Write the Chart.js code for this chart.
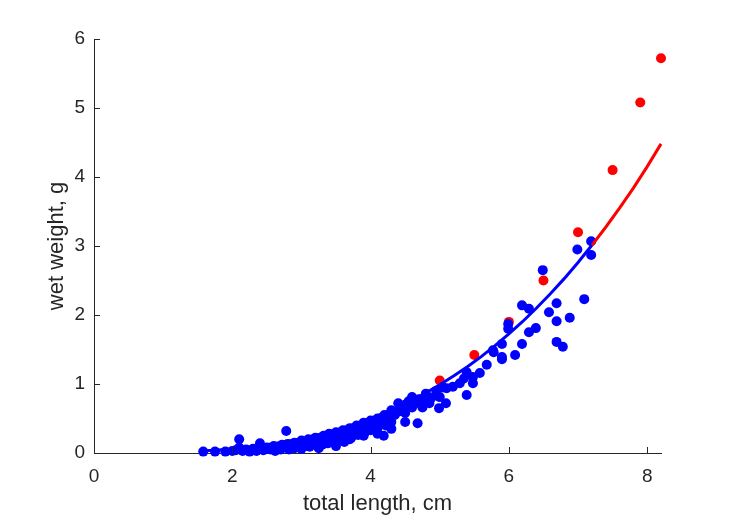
<!DOCTYPE html>
<html lang="en">
<head>
    <meta charset="UTF-8">
    <title>Wet weight vs total length</title>
    <script src="https://cdn.jsdelivr.net/npm/chart.js"></script>
    <style>
        html, body { margin: 0; padding: 0; background: #fff; }
        #wrap { width: 729px; height: 521px; }
    </style>
</head>
<body>
    <div id="wrap"><canvas id="myChart" width="729" height="521"></canvas></div>

    <script>
        // measured points (blue)
        const blueX = [1.58, 1.75, 1.9, 2.0, 2.05, 2.1, 2.1, 2.15, 2.2, 2.25, 2.3, 2.35, 2.4, 2.4, 2.45, 2.5, 2.55, 2.6, 2.62, 2.7,
            2.72, 2.78, 2.8, 2.82, 2.85, 2.9, 2.95, 3.0, 3.0, 3.05, 3.1, 3.12, 3.15, 3.2, 3.22, 3.25, 3.3, 3.32, 3.38, 3.4,
            3.45, 3.5, 3.5, 3.55, 3.6, 3.62, 3.65, 3.7, 3.72, 3.75, 3.8, 3.82, 3.85, 3.9, 3.92, 3.95, 4.0, 4.0, 4.05, 4.1,
            4.1, 4.15, 4.19, 4.2, 4.22, 4.25, 4.3, 4.3, 4.35, 4.4, 4.4, 4.45, 4.5, 4.5, 4.55, 4.6, 4.6, 4.65, 4.68, 4.7,
            4.75, 4.78, 4.8, 4.85, 4.88, 4.95, 4.99, 5.0, 5.05, 5.09, 5.1, 5.19, 5.29, 5.35, 5.39, 5.39, 5.48, 5.48, 5.58, 5.68,
            5.77, 5.78, 5.9, 5.9, 5.9, 5.99, 5.99, 6.09, 6.19, 6.19, 6.29, 6.29, 6.39, 6.49, 6.58, 6.69, 6.69, 6.69, 6.78, 6.88,
            6.99, 7.09, 7.19, 7.19,
            2.3, 2.5, 2.7, 2.9, 3.1, 3.3, 3.5, 3.7, 3.9, 4.1, 4.3, 4.5];
        const blueY = [0.02, 0.02, 0.02, 0.03, 0.04, 0.2, 0.08, 0.03, 0.05, 0.02, 0.06, 0.03, 0.14, 0.07, 0.04, 0.08, 0.05, 0.1, 0.03, 0.08,
            0.12, 0.32, 0.13, 0.05, 0.09, 0.15, 0.1, 0.18, 0.06, 0.13, 0.2, 0.09, 0.15, 0.22, 0.12, 0.07, 0.18, 0.25, 0.14, 0.28,
            0.2, 0.3, 0.1, 0.23, 0.33, 0.16, 0.27, 0.36, 0.22, 0.3, 0.4, 0.26, 0.34, 0.44, 0.3, 0.38, 0.47, 0.33, 0.42, 0.5,
            0.36, 0.45, 0.25, 0.55, 0.4, 0.5, 0.62, 0.45, 0.55, 0.72, 0.6, 0.65, 0.7, 0.58, 0.75, 0.81, 0.66, 0.72, 0.43, 0.78,
            0.66, 0.77, 0.86, 0.72, 0.8, 0.9, 0.65, 0.81, 0.95, 0.72, 0.94, 0.96, 1.01, 1.08, 0.84, 1.17, 1.1, 1.01, 1.16, 1.28,
            1.49, 1.46, 1.36, 1.39, 1.58, 1.8, 1.87, 1.42, 1.58, 2.14, 2.09, 1.75, 1.81, 2.65, 2.04, 2.17, 1.91, 1.61, 1.54, 1.96,
            2.95, 2.23, 3.07, 2.87,
            0.04, 0.06, 0.05, 0.07, 0.1, 0.12, 0.17, 0.2, 0.25, 0.28, 0.35, 0.45];

        // red points
        const redX = [5.0, 5.5, 6.0, 6.5, 7.0, 7.5, 7.9, 8.2];
        const redY = [1.05, 1.42, 1.9, 2.5, 3.2, 4.1, 5.08, 5.72];

        // fitted curve
        const fitBlueX = [1.6, 1.8, 2.0, 2.2, 2.4, 2.6, 2.8, 3.0, 3.2, 3.4, 3.6, 3.8, 4.0, 4.2, 4.4, 4.6, 4.8, 5.0,
            5.2, 5.4, 5.6, 5.8, 6.0, 6.2, 6.4, 6.6, 6.8, 7.0, 7.2];
        const fitBlueY = [0.031, 0.044, 0.060, 0.081, 0.105, 0.135, 0.169, 0.208, 0.253, 0.305, 0.363, 0.428, 0.501, 0.581, 0.670, 0.767, 0.873, 0.989,
            1.115, 1.250, 1.397, 1.556, 1.725, 1.906, 2.101, 2.308, 2.527, 2.76, 3.01];
        const fitRedX = [7.2, 7.4, 7.6, 7.8, 8.0, 8.2];
        const fitRedY = [3.01, 3.272, 3.548, 3.838, 4.15, 4.48];

        const xTicks = [0, 2, 4, 6, 8];
        const yTicks = [0, 1, 2, 3, 4, 5, 6];

        const toPts = (xs, ys) => xs.map((x, i) => ({ x: x, y: ys[i] }));

        const axisColor = '#262626';
        const fontFamily = '"Liberation Sans", Arial, sans-serif';

        // MATLAB style ticks pointing into the plot
        const inwardTicks = {
            id: 'inwardTicks',
            afterDatasetsDraw(chart) {
                const ctx = chart.ctx;
                const area = chart.chartArea;
                const len = 6;
                ctx.save();
                ctx.strokeStyle = axisColor;
                ctx.lineWidth = 1;
                chart.scales.x.ticks.forEach((t, i) => {
                    const px = Math.round(chart.scales.x.getPixelForTick(i)) + 0.5;
                    ctx.beginPath();
                    ctx.moveTo(px, area.bottom);
                    ctx.lineTo(px, area.bottom - len);
                    ctx.stroke();
                });
                chart.scales.y.ticks.forEach((t, i) => {
                    const py = Math.round(chart.scales.y.getPixelForTick(i)) + 0.5;
                    ctx.beginPath();
                    ctx.moveTo(area.left, py);
                    ctx.lineTo(area.left + len, py);
                    ctx.stroke();
                });
                ctx.restore();
            }
        };

        const ctx = document.getElementById('myChart').getContext('2d');
        const myChart = new Chart(ctx, {
            type: 'scatter',
            data: {
                datasets: [
                    {
                        data: toPts(fitBlueX, fitBlueY),
                        showLine: true,
                        borderColor: '#0000ff',
                        borderWidth: 3,
                        pointRadius: 0,
                        clip: false,
                        order: 0
                    },
                    {
                        data: toPts(fitRedX, fitRedY),
                        showLine: true,
                        borderColor: '#ff0000',
                        borderWidth: 3,
                        pointRadius: 0,
                        clip: false,
                        order: 0
                    },
                    {
                        data: toPts(blueX, blueY),
                        backgroundColor: '#0000ff',
                        borderColor: '#0000ff',
                        borderWidth: 0,
                        pointRadius: 5,
                        clip: false,
                        order: 1
                    },
                    {
                        data: toPts(redX, redY),
                        backgroundColor: '#ff0000',
                        borderColor: '#ff0000',
                        borderWidth: 0,
                        pointRadius: 5,
                        clip: false,
                        order: 2
                    }
                ]
            },
            options: {
                responsive: false,
                animation: false,
                layout: { padding: { top: 39, right: 68, left: 38, bottom: 0 } },
                plugins: {
                    legend: { display: false },
                    tooltip: { enabled: false }
                },
                scales: {
                    x: {
                        type: 'linear',
                        min: 0,
                        max: 8.2,
                        afterBuildTicks: s => { s.ticks = xTicks.map(v => ({ value: v })); },
                        afterFit: s => { s.height = 68; },
                        ticks: {
                            color: axisColor,
                            font: { family: fontFamily, size: 19 },
                            padding: 12
                        },
                        grid: { display: true, drawOnChartArea: false, drawTicks: false },
                        border: { display: true, color: axisColor, width: 1 },
                        title: {
                            display: true,
                            text: 'total length, cm',
                            color: axisColor,
                            font: { family: fontFamily, size: 22 },
                            padding: { top: 6 }
                        }
                    },
                    y: {
                        type: 'linear',
                        min: 0,
                        max: 6,
                        afterBuildTicks: s => { s.ticks = yTicks.map(v => ({ value: v })); },
                        afterFit: s => { s.width = 56; },
                        ticks: {
                            color: axisColor,
                            font: { family: fontFamily, size: 19 },
                            padding: 9
                        },
                        grid: { display: true, drawOnChartArea: false, drawTicks: false },
                        border: { display: true, color: axisColor, width: 1 },
                        title: {
                            display: true,
                            text: 'wet weight, g',
                            color: axisColor,
                            font: { family: fontFamily, size: 22 },
                            padding: { top: 6, bottom: 0 }
                        }
                    }
                }
            },
            plugins: [inwardTicks]
        });
    </script>
</body>
</html>
